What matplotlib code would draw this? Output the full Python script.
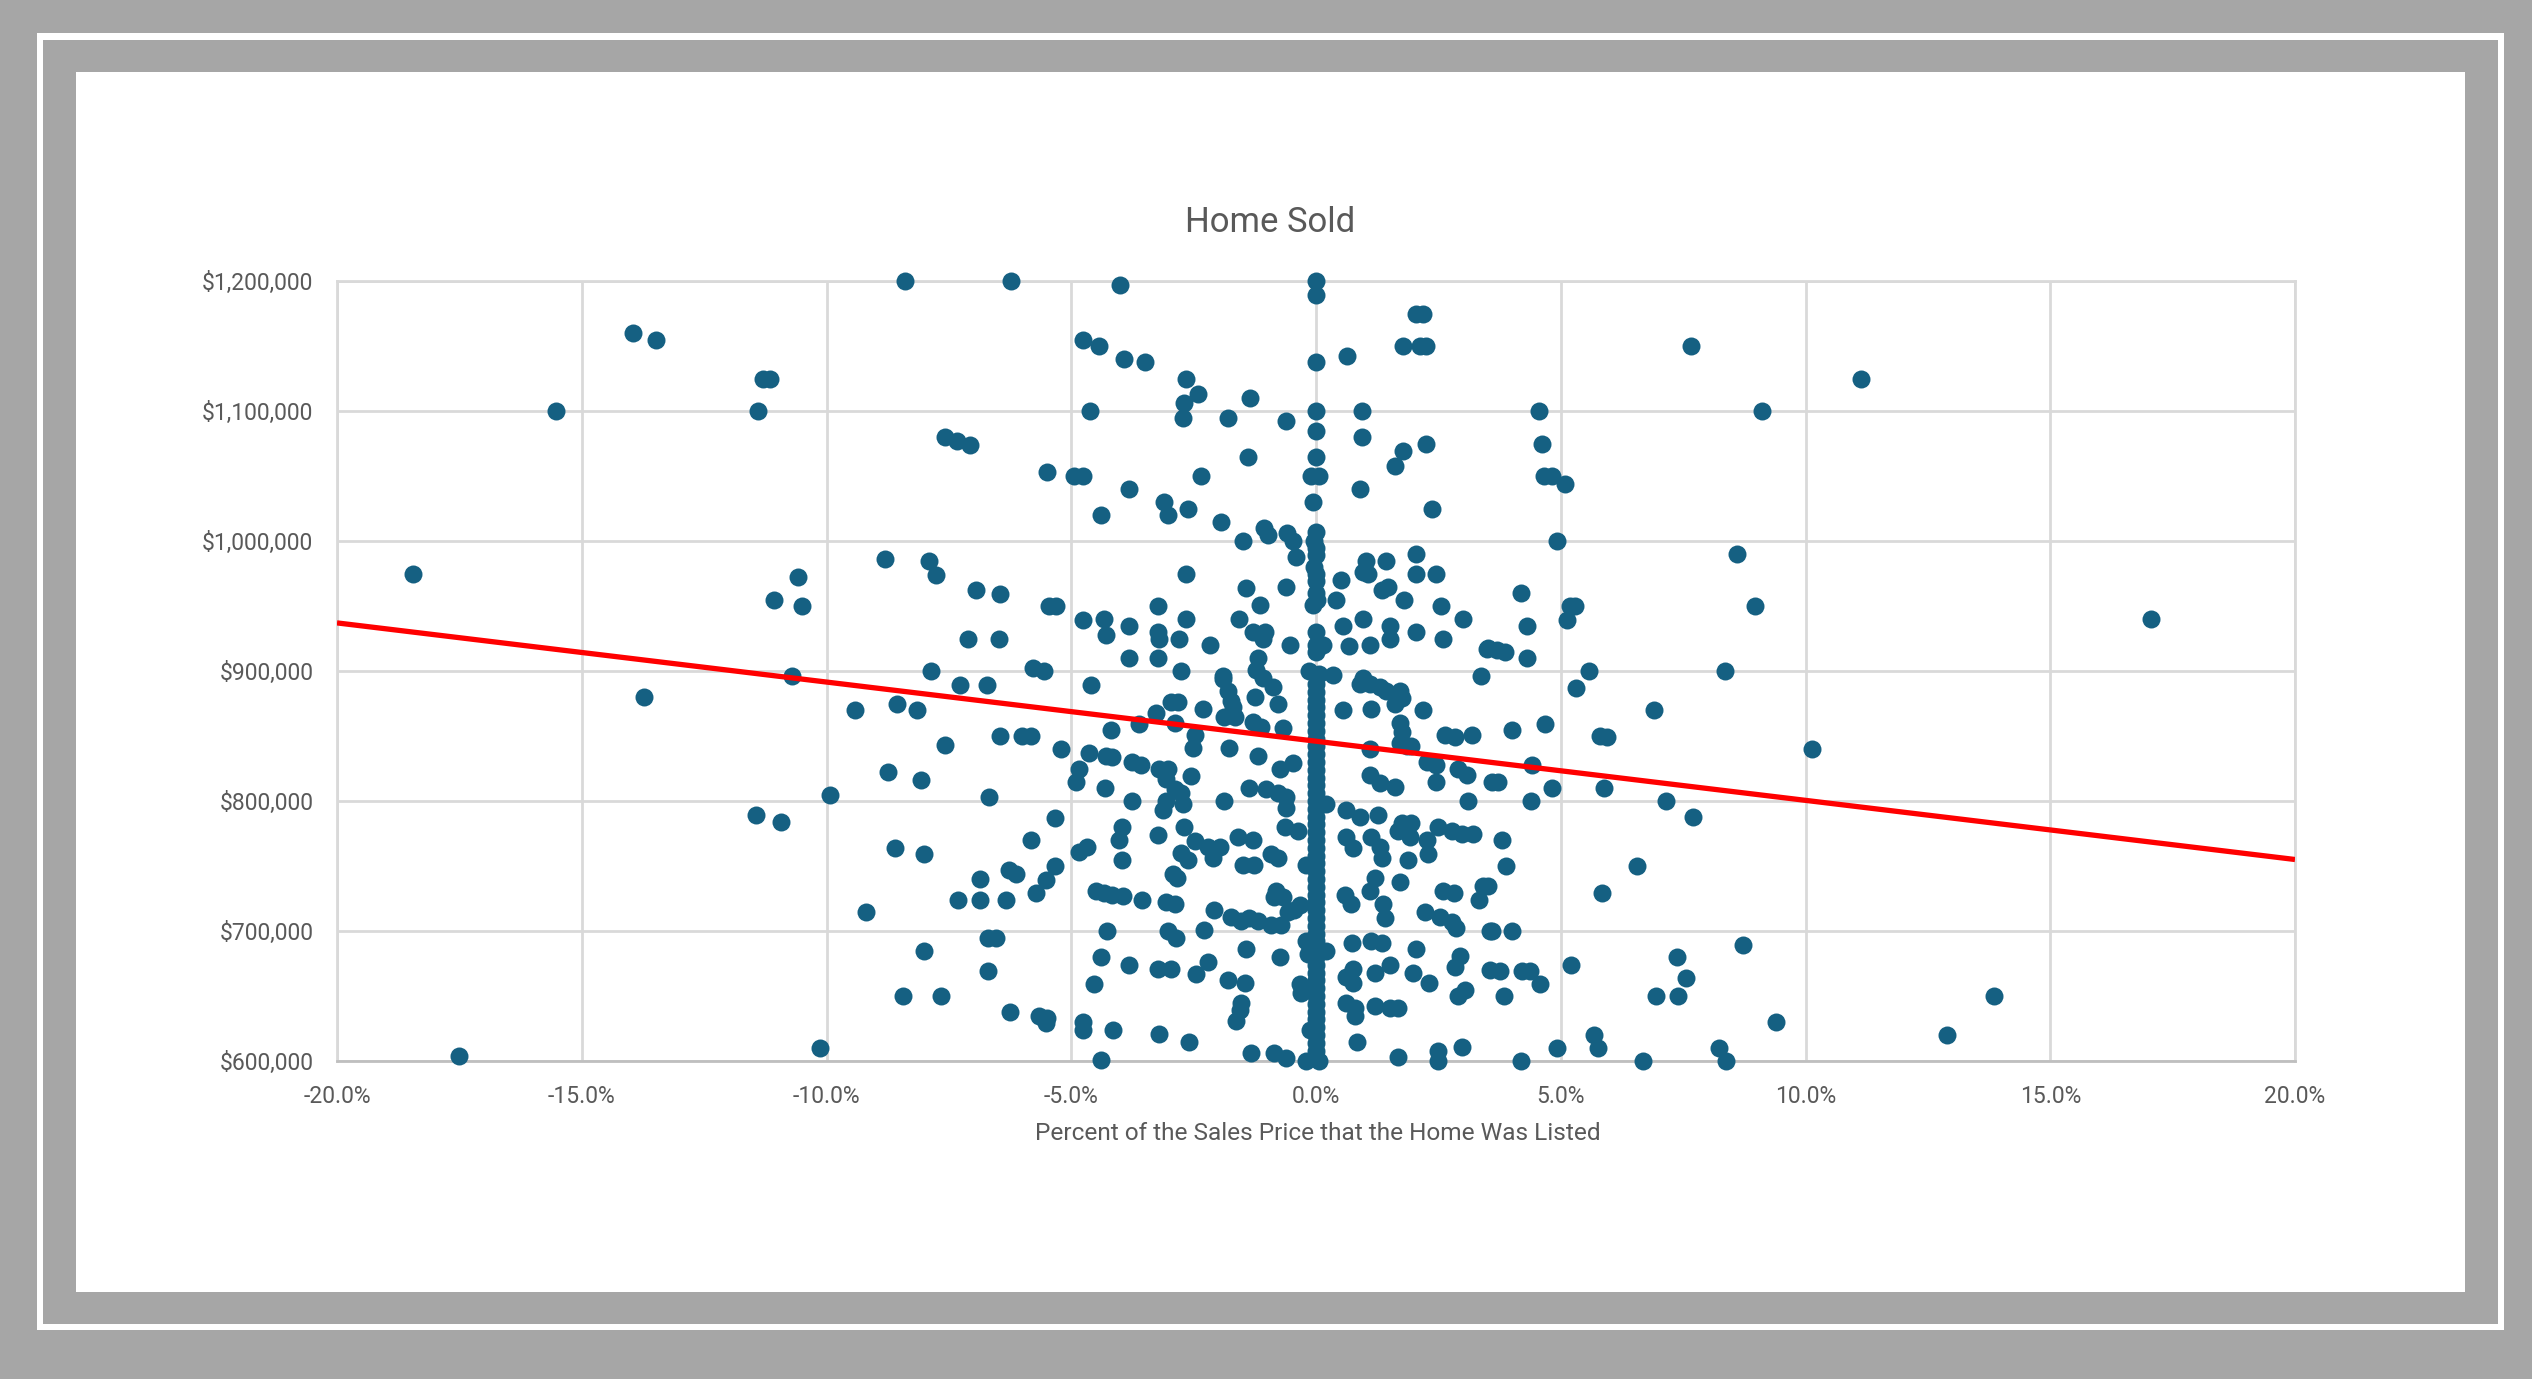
import matplotlib
matplotlib.use("Agg")
import matplotlib.pyplot as plt
from matplotlib.patches import Rectangle
import numpy as np

plt.rcParams['font.family'] = ['Roboto', 'DejaVu Sans']

# ---------------- data (percent listed vs sale price in $ thousands) ----------------
far_left = [(-18.45, 975), (-17.5, 604), (-15.52, 1100), (-13.95, 1160), (-13.49, 1155),
            (-13.73, 880), (-11.39, 1100), (-11.3, 1125), (-11.15, 1125), (-11.08, 955),
            (-10.58, 972), (-10.5, 950), (-10.71, 896), (-11.44, 789), (-10.93, 784),
            (-10.13, 610), (-9.92, 805)]

left_upper = [(-8.40, 1200), (-6.24, 1200), (-4.01, 1197), (-4.75, 1155), (-4.43, 1150),
              (-3.93, 1140), (-3.49, 1138), (-4.62, 1100), (-7.58, 1080), (-7.33, 1077),
              (-7.06, 1074), (-5.49, 1053), (-4.95, 1050), (-4.75, 1050), (-3.83, 1040),
              (-4.39, 1020), (-8.80, 986), (-7.9, 985), (-7.77, 974), (-6.94, 962),
              (-6.45, 959), (-5.45, 950), (-5.32, 950), (-4.77, 939), (-4.34, 940),
              (-4.29, 928), (-3.83, 935), (-7.11, 925), (-6.47, 925), (-3.83, 910),
              (-7.87, 900), (-5.79, 902), (-5.55, 900)]

left_lower = [(-7.28, 889), (-6.73, 889), (-4.6, 889), (-9.41, 870), (-8.56, 875), (-8.15, 870),
              (-6.46, 850), (-6.0, 850), (-5.83, 850), (-7.57, 843), (-5.21, 840), (-4.63, 837),
              (-4.29, 835), (-4.16, 834), (-4.19, 855), (-3.61, 859), (-3.75, 830), (-3.58, 828),
              (-4.84, 825), (-4.91, 815), (-4.31, 810), (-8.75, 822), (-8.07, 816), (-6.68, 803),
              (-3.75, 800), (-5.33, 787), (-3.96, 780), (-4.02, 770), (-5.83, 770), (-4.84, 761),
              (-4.67, 765), (-3.96, 755), (-8.61, 764), (-8.01, 759), (-6.27, 747), (-6.13, 744),
              (-5.33, 750), (-5.52, 739), (-6.87, 740), (-7.31, 724), (-6.87, 724), (-6.33, 724),
              (-5.73, 729), (-4.5, 731), (-4.33, 729), (-4.16, 728), (-3.95, 727), (-3.56, 724),
              (-9.2, 715), (-4.27, 700), (-6.71, 695), (-6.54, 695), (-8.01, 685), (-4.39, 680),
              (-3.83, 674), (-6.7, 669), (-4.53, 659), (-8.43, 650), (-7.67, 650), (-6.25, 638),
              (-5.66, 635), (-5.49, 633), (-5.52, 629), (-4.77, 630), (-4.77, 624), (-4.14, 624),
              (-4.39, 601)]

center_upper = [(2.05, 1175), (2.19, 1175), (1.77, 1150), (2.12, 1150), (2.25, 1150), (0.63, 1142),
                (-2.65, 1125), (-2.42, 1113), (-2.7, 1106), (-2.72, 1095), (-1.34, 1110), (-1.8, 1095),
                (-0.62, 1092), (0.93, 1100), (0.93, 1080), (-1.39, 1065), (-2.35, 1050), (1.78, 1069),
                (1.62, 1058), (2.25, 1075), (0.89, 1040), (2.36, 1025), (-3.1, 1030), (-3.03, 1020),
                (-2.62, 1025), (-1.95, 1015), (-1.06, 1010), (-0.98, 1005), (-1.49, 1000), (-0.59, 1006),
                (-0.47, 1000), (-0.4, 988), (-0.1, 1050), (0.07, 1050), (-0.07, 1030), (-0.05, 1000),
                (-0.05, 980), (-2.65, 975), (-1.43, 964), (-0.62, 965), (-1.15, 951), (-0.07, 951),
                (0.03, 955), (0.52, 970), (0.4, 955), (1.03, 985), (0.96, 976), (1.06, 975), (1.44, 985),
                (2.05, 990), (2.05, 975), (2.46, 975), (1.34, 962), (1.47, 965), (1.8, 955), (2.55, 950),
                (3.0, 940), (-3.23, 950), (-2.65, 940), (-3.23, 930), (-3.2, 925), (-2.79, 925),
                (-1.58, 940), (-1.29, 930), (-1.05, 930), (-1.08, 925), (-2.16, 920), (-0.54, 920),
                (0.14, 920), (0.55, 935), (0.68, 919), (0.96, 940), (1.1, 920), (1.51, 935), (1.51, 925),
                (2.05, 930), (2.6, 925), (3.49, 917), (-3.23, 910), (-2.76, 900), (-1.19, 910),
                (-1.22, 901), (-1.08, 895), (-1.9, 896), (-0.14, 900), (0.07, 898), (0.34, 897),
                (3.38, 896), (0.97, 895)]

center_lower_left = [(-1.9, 894), (-1.8, 885), (-1.73, 877), (-1.7, 872), (-1.87, 865), (-1.66, 865),
                     (-0.88, 888), (-1.25, 880), (-0.78, 875), (-1.29, 861), (-1.12, 857), (-0.67, 856),
                     (-2.96, 876), (-2.82, 876), (-3.27, 868), (-2.31, 871), (-2.89, 860), (-2.48, 851),
                     (-2.52, 841), (-1.77, 841), (-1.19, 835), (-0.74, 825), (-0.47, 829), (-3.2, 825),
                     (-3.03, 825), (-3.06, 817), (-2.89, 809), (-2.76, 806), (-3.06, 800), (-3.13, 793),
                     (-2.72, 798), (-2.55, 819), (-1.87, 800), (-1.36, 810), (-1.02, 809), (-0.78, 806),
                     (-0.61, 803), (-0.61, 795), (-2.69, 780), (-3.23, 774), (-2.48, 769), (-2.21, 765),
                     (-1.97, 765), (-2.11, 756), (-2.76, 760), (-2.62, 755), (-1.6, 772), (-1.29, 770),
                     (-1.5, 751), (-1.26, 751), (-0.92, 759), (-0.78, 756), (-0.64, 780), (-0.37, 777),
                     (-0.2, 751), (-2.93, 744), (-2.83, 741), (-0.81, 731), (-0.85, 726), (-0.68, 726),
                     (-0.44, 716), (-0.33, 720), (-0.57, 715), (-3.06, 722), (-2.89, 721), (-2.08, 716),
                     (-1.73, 711), (-1.53, 708), (-1.36, 710), (-1.19, 708), (-0.91, 705), (-0.71, 705),
                     (-3.03, 700), (-2.86, 695), (-2.28, 701), (-1.43, 686), (-0.74, 680), (-3.23, 671),
                     (-2.96, 671), (-2.21, 676), (-2.45, 667), (-1.8, 662), (-1.46, 660), (-1.53, 645),
                     (-1.56, 639), (-1.63, 631), (-3.2, 621), (-2.59, 615), (-0.33, 659), (-0.3, 652),
                     (-0.13, 624), (-1.32, 606), (-0.85, 606), (-0.61, 602), (-0.2, 600), (0.07, 600),
                     (-0.2, 692), (-0.16, 682), (0.21, 685), (0.21, 798)]

center_lower_right = [(0.55, 870), (0.9, 890), (1.1, 890), (1.3, 888), (1.44, 885), (1.71, 885),
                      (1.61, 875), (1.75, 879), (1.13, 871), (1.71, 860), (1.75, 853), (1.71, 845),
                      (1.85, 842), (1.95, 842), (2.19, 870), (1.1, 840), (2.63, 851), (2.84, 849),
                      (3.18, 851), (2.26, 830), (2.46, 828), (2.91, 825), (3.08, 820), (2.46, 815),
                      (1.1, 820), (1.3, 814), (1.61, 811), (3.11, 800), (3.59, 815), (0.62, 793),
                      (0.89, 788), (1.27, 789), (1.75, 783), (1.95, 783), (1.68, 777), (1.92, 772),
                      (2.26, 770), (2.29, 759), (1.88, 755), (2.5, 780), (2.77, 777), (2.98, 775),
                      (3.21, 775), (0.62, 772), (0.76, 764), (1.13, 772), (1.3, 765), (1.34, 756),
                      (1.71, 738), (0.59, 728), (0.72, 721), (1.2, 741), (1.1, 731), (1.37, 721),
                      (1.41, 710), (2.6, 731), (2.81, 729), (3.32, 724), (3.42, 735), (2.23, 715),
                      (2.53, 711), (2.77, 707), (2.87, 702), (3.55, 700), (0.74, 691), (1.13, 692),
                      (1.34, 691), (2.05, 686), (2.94, 681), (2.84, 672), (0.76, 671), (0.62, 665),
                      (0.76, 660), (1.2, 668), (1.51, 674), (1.99, 668), (2.3, 660), (3.04, 655),
                      (2.91, 650), (3.55, 670), (0.62, 645), (0.79, 641), (0.79, 635), (1.2, 642),
                      (1.51, 641), (1.68, 641), (0.84, 615), (1.68, 603), (2.5, 608), (2.5, 600),
                      (2.98, 611)]

# homes sold exactly at list price (0.0%)
at_list_price = [1200, 1189, 1138, 1100, 1085, 1065, 1007, 995, 989, 975, 969, 960, 930, 920, 915,
                 890, 884, 878, 872, 866, 860, 854, 848, 842, 836, 830, 824, 818, 812, 806, 800,
                 794, 788, 782, 776, 770, 764, 758, 752, 746, 740, 734, 728, 722, 716, 710, 704,
                 698, 692, 686, 680, 674, 668, 662, 656, 650, 644, 638, 632, 626, 620, 614, 608, 602]

right_upper = [(4.56, 1100), (4.62, 1075), (4.65, 1050), (4.82, 1050), (5.09, 1044), (4.92, 1000),
               (7.67, 1150), (9.12, 1100), (8.6, 990), (8.97, 950), (4.18, 960), (4.31, 935),
               (5.19, 950), (5.3, 950), (5.13, 939), (3.52, 918), (3.69, 916), (3.86, 915),
               (4.31, 910), (5.57, 900), (8.35, 900)]

right_lower = [(5.31, 887), (6.91, 870), (4.0, 855), (4.67, 859), (5.81, 850), (5.94, 849),
               (10.13, 840), (4.41, 828), (3.71, 815), (4.83, 810), (5.88, 810), (4.4, 800),
               (7.15, 800), (7.7, 788), (3.79, 770), (3.88, 750), (3.52, 735), (6.56, 750),
               (5.84, 729), (3.6, 700), (4.01, 700), (8.72, 689), (7.38, 680), (7.55, 664),
               (6.95, 650), (7.39, 650), (3.76, 669), (4.2, 669), (4.37, 669), (4.57, 659),
               (3.85, 650), (5.21, 674), (9.39, 630), (5.67, 620), (5.76, 610), (4.92, 610),
               (4.18, 600), (6.68, 600), (8.23, 610), (8.37, 600)]

far_right = [(11.13, 1125), (17.05, 940), (13.85, 650), (12.9, 620)]

# Excel linear trendline: price = intercept + slope * pct
trend_intercept_k = 846.0
trend_slope_k_per_pct = -4.55

x_ticks = [-20, -15, -10, -5, 0, 5, 10, 15, 20]
y_ticks = [600000, 700000, 800000, 900000, 1000000, 1100000, 1200000]

title = "Home Sold"
x_label = "Percent of the Sales Price that the Home Was Listed"

# ---------------- assemble ----------------
groups = [far_left, left_upper, left_lower, center_upper, center_lower_left,
          center_lower_right, right_upper, right_lower, far_right]
pct = [p for g in groups for p, _ in g] + [0.0] * len(at_list_price)
price = [v * 1000 for g in groups for _, v in g] + [v * 1000 for v in at_list_price]

W, H = 2532, 1379
fig = plt.figure(figsize=(W / 100, H / 100), dpi=100)
fig.patch.set_facecolor('#a6a6a6')


def add_rect(x0, y0, x1, y1, color, z):
    fig.patches.append(Rectangle((x0 / W, 1 - y1 / H), (x1 - x0) / W, (y1 - y0) / H,
                                 transform=fig.transFigure, facecolor=color,
                                 edgecolor='none', zorder=z))


add_rect(37, 33, 2504, 1330, 'white', -12)
add_rect(43, 40, 2498, 1324, '#a6a6a6', -11)
add_rect(76, 72, 2465, 1292, 'white', -10)

left, right, top, bottom = 337, 2295, 281, 1061
ax = fig.add_axes([left / W, 1 - bottom / H, (right - left) / W, (bottom - top) / H])
ax.set_facecolor('white')

ax.scatter(pct, price, s=168, color='#156082', linewidths=0, zorder=3, clip_on=False)

tx = np.array([x_ticks[0], x_ticks[-1]], dtype=float)
ty = (trend_intercept_k + trend_slope_k_per_pct * tx) * 1000
ax.plot(tx, ty, color='#ff0000', lw=3.8, zorder=4, solid_capstyle='butt')

ax.set_xlim(x_ticks[0], x_ticks[-1])
ax.set_ylim(y_ticks[0], y_ticks[-1])
ax.set_xticks(x_ticks)
ax.set_yticks(y_ticks)
ax.set_xticklabels([f"{v:.1f}%" for v in x_ticks])
ax.set_yticklabels([f"${v:,.0f}" for v in y_ticks])
ax.tick_params(axis='both', length=0, labelsize=16.5, labelcolor='#595959', pad=17)

ax.grid(True, color='#d9d9d9', lw=2.0, zorder=0)
ax.set_axisbelow(True)
for side in ['top', 'right', 'left']:
    ax.spines[side].set_color('#d9d9d9')
    ax.spines[side].set_linewidth(2.0)
ax.spines['bottom'].set_color('#bfbfbf')
ax.spines['bottom'].set_linewidth(2.0)

fig.text(1270 / W, 1 - 222 / H, title, ha='center', va='center', fontsize=25, color='#595959')
fig.text(1318 / W, 1 - 1134 / H, x_label, ha='center', va='center', fontsize=17.6, color='#595959')

fig.savefig('out.png', dpi=100, facecolor=fig.get_facecolor())
